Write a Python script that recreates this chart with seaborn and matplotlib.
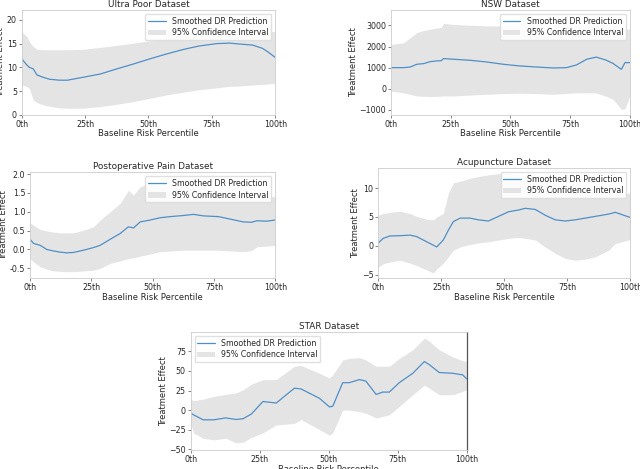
import numpy as np
import pandas as pd
import matplotlib
matplotlib.use("Agg")
import matplotlib.pyplot as plt
import seaborn as sns

sns.set_style("ticks")
plt.rcParams['font.family'] = ['DejaVu Sans']
FS = 5.7

# ---------------- data (percentile, mean, lower, upper) ----------------
up_x = [0, 2, 3, 4.5, 6, 8.5, 11, 15, 18, 24, 31, 37, 44, 50.6, 57, 64, 70, 77, 82, 86, 91, 95, 97, 100]
up_mean = [11.8, 10.5, 10.0, 9.7, 8.4, 7.9, 7.5, 7.3, 7.3, 7.9, 8.6, 9.6, 10.7, 11.8, 12.8, 13.8, 14.5, 15.0, 15.1, 14.9, 14.7, 14.0, 13.3, 12.1]
up_lo = [6.3, 6.0, 5.6, 3.2, 2.6, 2.1, 1.8, 1.5, 1.4, 1.4, 1.75, 2.2, 2.8, 3.5, 4.2, 4.8, 5.3, 5.7, 6.0, 6.1, 6.3, 6.4, 6.5, 6.7]
up_hi = [17.5, 16.5, 15.4, 14.4, 13.8, 13.7, 13.7, 13.7, 13.7, 13.8, 14.2, 14.6, 15.1, 15.6, 16.1, 16.7, 17.2, 17.6, 17.9, 17.9, 17.9, 17.8, 17.7, 17.5]

nsw_x = [0, 5.3, 8, 10.8, 13.6, 16.4, 19.2, 21, 22, 26, 33, 40, 47, 54, 61, 68, 73.5, 77.7, 82, 86, 90, 93, 96.5, 98, 100]
nsw_mean = [1000, 1000, 1030, 1160, 1190, 1285, 1320, 1330, 1430, 1400, 1350, 1270, 1160, 1080, 1030, 985, 1000, 1130, 1400, 1500, 1360, 1200, 920, 1240, 1240]
nsw_lo = [-110, -190, -270, -340, -360, -370, -360, -350, -340, -340, -300, -260, -230, -210, -230, -260, -220, -190, -190, -200, -350, -500, -975, -950, -340]
nsw_hi = [2100, 2180, 2420, 2660, 2760, 2820, 2880, 2900, 3100, 3050, 3010, 2980, 2980, 2980, 2980, 2980, 2990, 3000, 3000, 2980, 2930, 2900, 2860, 2840, 2820]

pp_x = [0, 1.4, 4.1, 6.8, 9.5, 12.2, 15, 17.7, 21.8, 25.9, 28.6, 32.7, 36.7, 40.1, 42.2, 44.9, 49, 53, 57.1, 62.6, 66.7, 70.7, 76.9, 87, 90.3, 92.5, 96.6, 100]
pp_mean = [0.27, 0.16, 0.11, 0.0, -0.04, -0.07, -0.09, -0.08, -0.02, 0.05, 0.11, 0.27, 0.42, 0.6, 0.57, 0.73, 0.78, 0.84, 0.87, 0.90, 0.93, 0.89, 0.87, 0.73, 0.72, 0.76, 0.75, 0.78]
pp_lo = [-0.24, -0.33, -0.46, -0.52, -0.57, -0.58, -0.59, -0.59, -0.57, -0.55, -0.5, -0.37, -0.3, -0.24, -0.22, -0.18, -0.12, -0.06, -0.04, -0.02, -0.02, -0.02, -0.02, -0.06, -0.03, 0.07, 0.09, 0.11]
pp_hi = [0.71, 0.64, 0.53, 0.49, 0.46, 0.44, 0.44, 0.44, 0.51, 0.6, 0.78, 1.0, 1.22, 1.57, 1.44, 1.66, 1.75, 1.75, 1.72, 1.68, 1.62, 1.56, 1.5, 1.44, 1.42, 1.42, 1.40, 1.40]

ac_x = [0, 2, 4.6, 8.6, 12.6, 15.2, 19.2, 21.9, 23.2, 25.8, 27.8, 29.8, 32.5, 36.4, 39.7, 43.7, 47.7, 51.7, 55.6, 58.3, 62.3, 66.2, 70.2, 74.2, 78.1, 82.1, 86.1, 91.4, 94, 100]
ac_mean = [0.5, 1.3, 1.7, 1.75, 1.85, 1.6, 0.7, 0.1, -0.2, 1.0, 2.7, 4.2, 4.8, 4.8, 4.5, 4.3, 5.1, 5.9, 6.2, 6.5, 6.3, 5.3, 4.5, 4.3, 4.5, 4.8, 5.1, 5.5, 5.8, 4.9]
ac_lo = [-3.7, -3.1, -2.8, -2.5, -3.0, -3.4, -4.2, -4.7, -4.0, -3.0, -1.9, -0.76, -0.2, 0.23, 0.5, 0.7, 1.0, 1.3, 1.45, 1.3, 1.0, -0.2, -1.3, -2.2, -2.5, -2.3, -1.9, -0.76, 0.4, 1.1]
ac_hi = [5.3, 5.6, 5.8, 6.0, 5.6, 5.1, 4.6, 4.5, 5.0, 5.6, 9.1, 10.9, 11.2, 11.7, 12.0, 12.3, 12.5, 12.5, 12.4, 12.2, 11.8, 11.3, 10.8, 10.3, 9.9, 9.6, 9.4, 9.2, 9.1, 9.1]

st_x = [0, 1, 4.5, 8.4, 12.7, 16.5, 19, 22, 26.2, 31, 37.6, 40, 46.7, 50.3, 51.5, 55.1, 57.5, 61.2, 63.5, 67.2, 69.6, 72, 75.6, 80.5, 84.7, 86.5, 90.1, 95, 98.6, 100]
st_mean = [-3.8, -6, -12.4, -12.4, -10, -12, -11, -5, 11, 9, 28, 27, 15, 4, 5, 35, 35, 39, 37, 20, 23, 23, 35, 47, 62, 58, 48, 47, 45, 40]
st_lo = [-17, -29, -36, -38, -36, -42, -41, -35, -29, -19, -17, -12, -25, -32, -29, 0, 0, -2, -4, -10, -8, -6, 4.7, 19.6, 32, 28, 19.6, 19.6, 24, 26]
st_hi = [14, 12, 14, 17.5, 20, 22, 26, 33, 39, 39, 56, 57, 47, 41, 45, 64, 66, 67, 64, 56, 56, 56, 66, 77, 92, 88, 77, 68, 63, 62]

panels = [
    ("Ultra Poor Dataset", up_x, up_mean, up_lo, up_hi, (0, 22.1), [0, 5, 10, 15, 20], "upper right",
     [0.034, 0.755, 0.396, 0.224]),
    ("NSW Dataset", nsw_x, nsw_mean, nsw_lo, nsw_hi, (-1240, 3740), [-1000, 0, 1000, 2000, 3000], "upper right",
     [0.611, 0.755, 0.373, 0.224]),
    ("Postoperative Pain Dataset", pp_x, pp_mean, pp_lo, pp_hi, (-0.76, 2.05), [-0.5, 0.0, 0.5, 1.0, 1.5, 2.0], "upper right",
     [0.047, 0.407, 0.383, 0.226]),
    ("Acupuncture Dataset", ac_x, ac_mean, ac_lo, ac_hi, (-5.6, 13.5), [-5, 0, 5, 10], "upper right",
     [0.591, 0.407, 0.394, 0.235]),
    ("STAR Dataset", st_x, st_mean, st_lo, st_hi, (-51, 100), [-50, -25, 0, 25, 50, 75], "upper left",
     [0.298, 0.0405, 0.431, 0.252]),
]

fig = plt.figure(figsize=(6.4, 4.69), dpi=100)
for i, (title, x, m, lo, hi, ylim, yt, loc, rect) in enumerate(panels):
    ax = fig.add_axes(rect)
    df = pd.DataFrame({"pct": x, "mean": m})
    ax.fill_between(x, lo, hi, color="#e4e4e4", lw=0, label="95% Confidence Interval")
    sns.lineplot(data=df, x="pct", y="mean", ax=ax, color="#4f8fc8", lw=0.9,
                 label="Smoothed DR Prediction")
    ax.set_xlim(0, 100)
    ax.set_ylim(*ylim)
    ax.set_yticks(yt)
    ax.set_xticks([0, 25, 50, 75, 100])
    ax.set_xticklabels(["0th", "25th", "50th", "75th", "100th"])
    if title.startswith("Postoperative"):
        ax.set_yticklabels([f"{v:.1f}" for v in yt])
    ax.tick_params(labelsize=FS, length=2, width=0.5, pad=1.5, color="#555555")
    ax.set_title(title, fontsize=FS + 0.7, pad=2)
    ax.set_xlabel("Baseline Risk Percentile", fontsize=FS + 0.3, labelpad=0.5)
    ax.set_ylabel("Treatment Effect", fontsize=FS + 0.3, labelpad=1)
    for s in ax.spines.values():
        s.set_color("#cccccc")
        s.set_linewidth(0.6)
    if i == 4:
        ax.spines["right"].set_color("#555555")
        ax.spines["right"].set_linewidth(0.9)
    h, l = ax.get_legend_handles_labels()
    order = [l.index("Smoothed DR Prediction"), l.index("95% Confidence Interval")]
    ax.legend([h[k] for k in order], [l[k] for k in order], loc=loc, fontsize=FS,
              frameon=True, edgecolor="#dddddd", framealpha=0.9, handlelength=2.2,
              borderpad=0.35, labelspacing=0.35, handletextpad=0.8)

fig.savefig("out.png", dpi=100)
